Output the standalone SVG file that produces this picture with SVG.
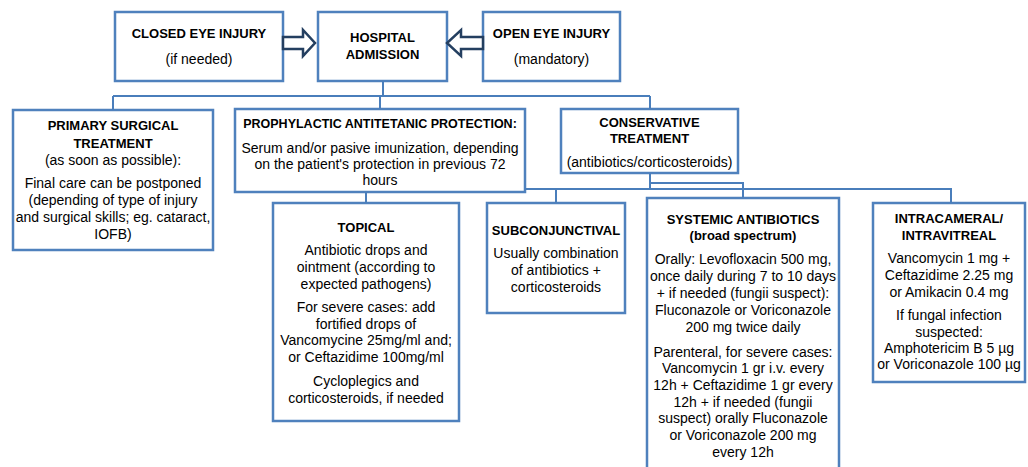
<svg xmlns="http://www.w3.org/2000/svg" width="1028" height="467" viewBox="0 0 1028 467">
<style>
.box{fill:#fff;stroke:#4F81BD;stroke-width:2.5}
.t{font-family:"Liberation Sans",Arial,sans-serif;font-size:14px;fill:#000;text-anchor:middle}
.b{font-family:"Liberation Sans",Arial,sans-serif;font-size:13px;font-weight:bold;fill:#000;text-anchor:middle}
.ln{fill:none;stroke:#4A7EBB;stroke-width:2}
.arr{fill:#fff;stroke:#243F60;stroke-width:2.5;stroke-linejoin:miter}
</style>
<rect width="1028" height="467" fill="#fff"/>
<g id="closed">
<rect class="box" x="115" y="12" width="168" height="69"/>
<text class="b" x="199" y="38">CLOSED EYE INJURY</text>
<text class="t" x="199" y="64">(if needed)</text>
</g>
<g id="hospital">
<rect class="box" x="318" y="12" width="129" height="69"/>
<text class="b" x="382.5" y="42">HOSPITAL</text>
<text class="b" x="382.5" y="59">ADMISSION</text>
</g>
<g id="open">
<rect class="box" x="483" y="12" width="137" height="69"/>
<text class="b" x="551.5" y="38">OPEN EYE INJURY</text>
<text class="t" x="551.5" y="64">(mandatory)</text>
</g>
<g id="primary">
<rect class="box" x="13" y="110" width="200" height="140"/>
<text class="b" x="113" y="130">PRIMARY SURGICAL</text>
<text class="b" x="113" y="148">TREATMENT</text>
<text class="t" x="113" y="165">(as soon as possible):</text>
<text class="t" x="113" y="188">Final care can be postponed</text>
<text class="t" x="113" y="205">(depending of type of injury</text>
<text class="t" x="113" y="222">and surgical skills; eg. cataract,</text>
<text class="t" x="113" y="239">IOFB)</text>
</g>
<g id="prophylactic">
<rect class="box" x="235" y="109" width="290" height="83"/>
<text class="b" x="380" y="128" style="font-size:12.5px">PROPHYLACTIC ANTITETANIC PROTECTION:</text>
<text class="t" x="380" y="153">Serum and/or pasive imunization, depending</text>
<text class="t" x="380" y="169">on the patient's protection in previous 72</text>
<text class="t" x="380" y="185">hours</text>
</g>
<g id="conservative">
<rect class="box" x="561" y="109" width="177" height="64"/>
<text class="b" x="649.5" y="127">CONSERVATIVE</text>
<text class="b" x="649.5" y="143">TREATMENT</text>
<text class="t" x="649.5" y="167">(antibiotics/corticosteroids)</text>
</g>
<g id="topical">
<rect class="box" x="273" y="203" width="186" height="218"/>
<text class="b" x="366" y="232">TOPICAL</text>
<text class="t" x="366" y="255">Antibiotic drops  and</text>
<text class="t" x="366" y="272">ointment (according to</text>
<text class="t" x="366" y="289">expected pathogens)</text>
<text class="t" x="366" y="312">For severe cases: add</text>
<text class="t" x="366" y="329">fortified drops of</text>
<text class="t" x="366" y="345">Vancomycine 25mg/ml and;</text>
<text class="t" x="366" y="362">or Ceftazidime 100mg/ml</text>
<text class="t" x="366" y="386">Cycloplegics and</text>
<text class="t" x="366" y="403">corticosteroids, if needed</text>
</g>
<g id="subconjunctival">
<rect class="box" x="487" y="203" width="138" height="110"/>
<text class="b" x="556" y="235">SUBCONJUNCTIVAL</text>
<text class="t" x="556" y="258">Usually combination</text>
<text class="t" x="556" y="275">of antibiotics +</text>
<text class="t" x="556" y="292">corticosteroids</text>
</g>
<g id="systemic">
<rect class="box" x="647" y="198" width="192" height="290"/>
<text class="b" x="743" y="224">SYSTEMIC ANTIBIOTICS</text>
<text class="b" x="743" y="240">(broad spectrum)</text>
<text class="t" x="743" y="264">Orally: Levofloxacin 500 mg,</text>
<text class="t" x="743" y="281">once daily during 7 to 10 days</text>
<text class="t" x="743" y="298">+ if needed (fungii suspect):</text>
<text class="t" x="743" y="315">Fluconazole or Voriconazole</text>
<text class="t" x="743" y="332">200 mg twice daily</text>
<text class="t" x="743" y="357">Parenteral, for severe cases:</text>
<text class="t" x="743" y="373">Vancomycin 1 gr i.v. every</text>
<text class="t" x="743" y="390">12h + Ceftazidime 1 gr every</text>
<text class="t" x="743" y="407">12h + if needed (fungii</text>
<text class="t" x="743" y="423">suspect) orally Fluconazole</text>
<text class="t" x="743" y="440">or Voriconazole 200 mg</text>
<text class="t" x="743" y="457">every 12h</text>
</g>
<g id="intracameral">
<rect class="box" x="873" y="203" width="152" height="179"/>
<text class="b" x="949" y="223">INTRACAMERAL/</text>
<text class="b" x="949" y="240">INTRAVITREAL</text>
<text class="t" x="949" y="263">Vancomycin 1 mg +</text>
<text class="t" x="949" y="280">Ceftazidime 2.25 mg</text>
<text class="t" x="949" y="297">or Amikacin 0.4 mg</text>
<text class="t" x="949" y="320">If fungal infection</text>
<text class="t" x="949" y="337">suspected:</text>
<text class="t" x="949" y="353">Amphotericim B 5 µg</text>
<text class="t" x="949" y="369">or Voriconazole 100 µg</text>
</g>
<g id="connectors">
<path class="ln" d="M383 81V96M113 96H650M113 96V110M380 96V109M650 96V109"/>
<path class="ln" d="M650 173V189M650 183H743V198M525 189H951V203M556 189V203M366 192V203"/>
<polygon class="arr" points="283,37 303,37 303,30 315,43 303,56 303,49 283,49"/>
<polygon class="arr" points="483,37 461,37 461,30 447,43 461,56 461,49 483,49"/>
</g>
</svg>
